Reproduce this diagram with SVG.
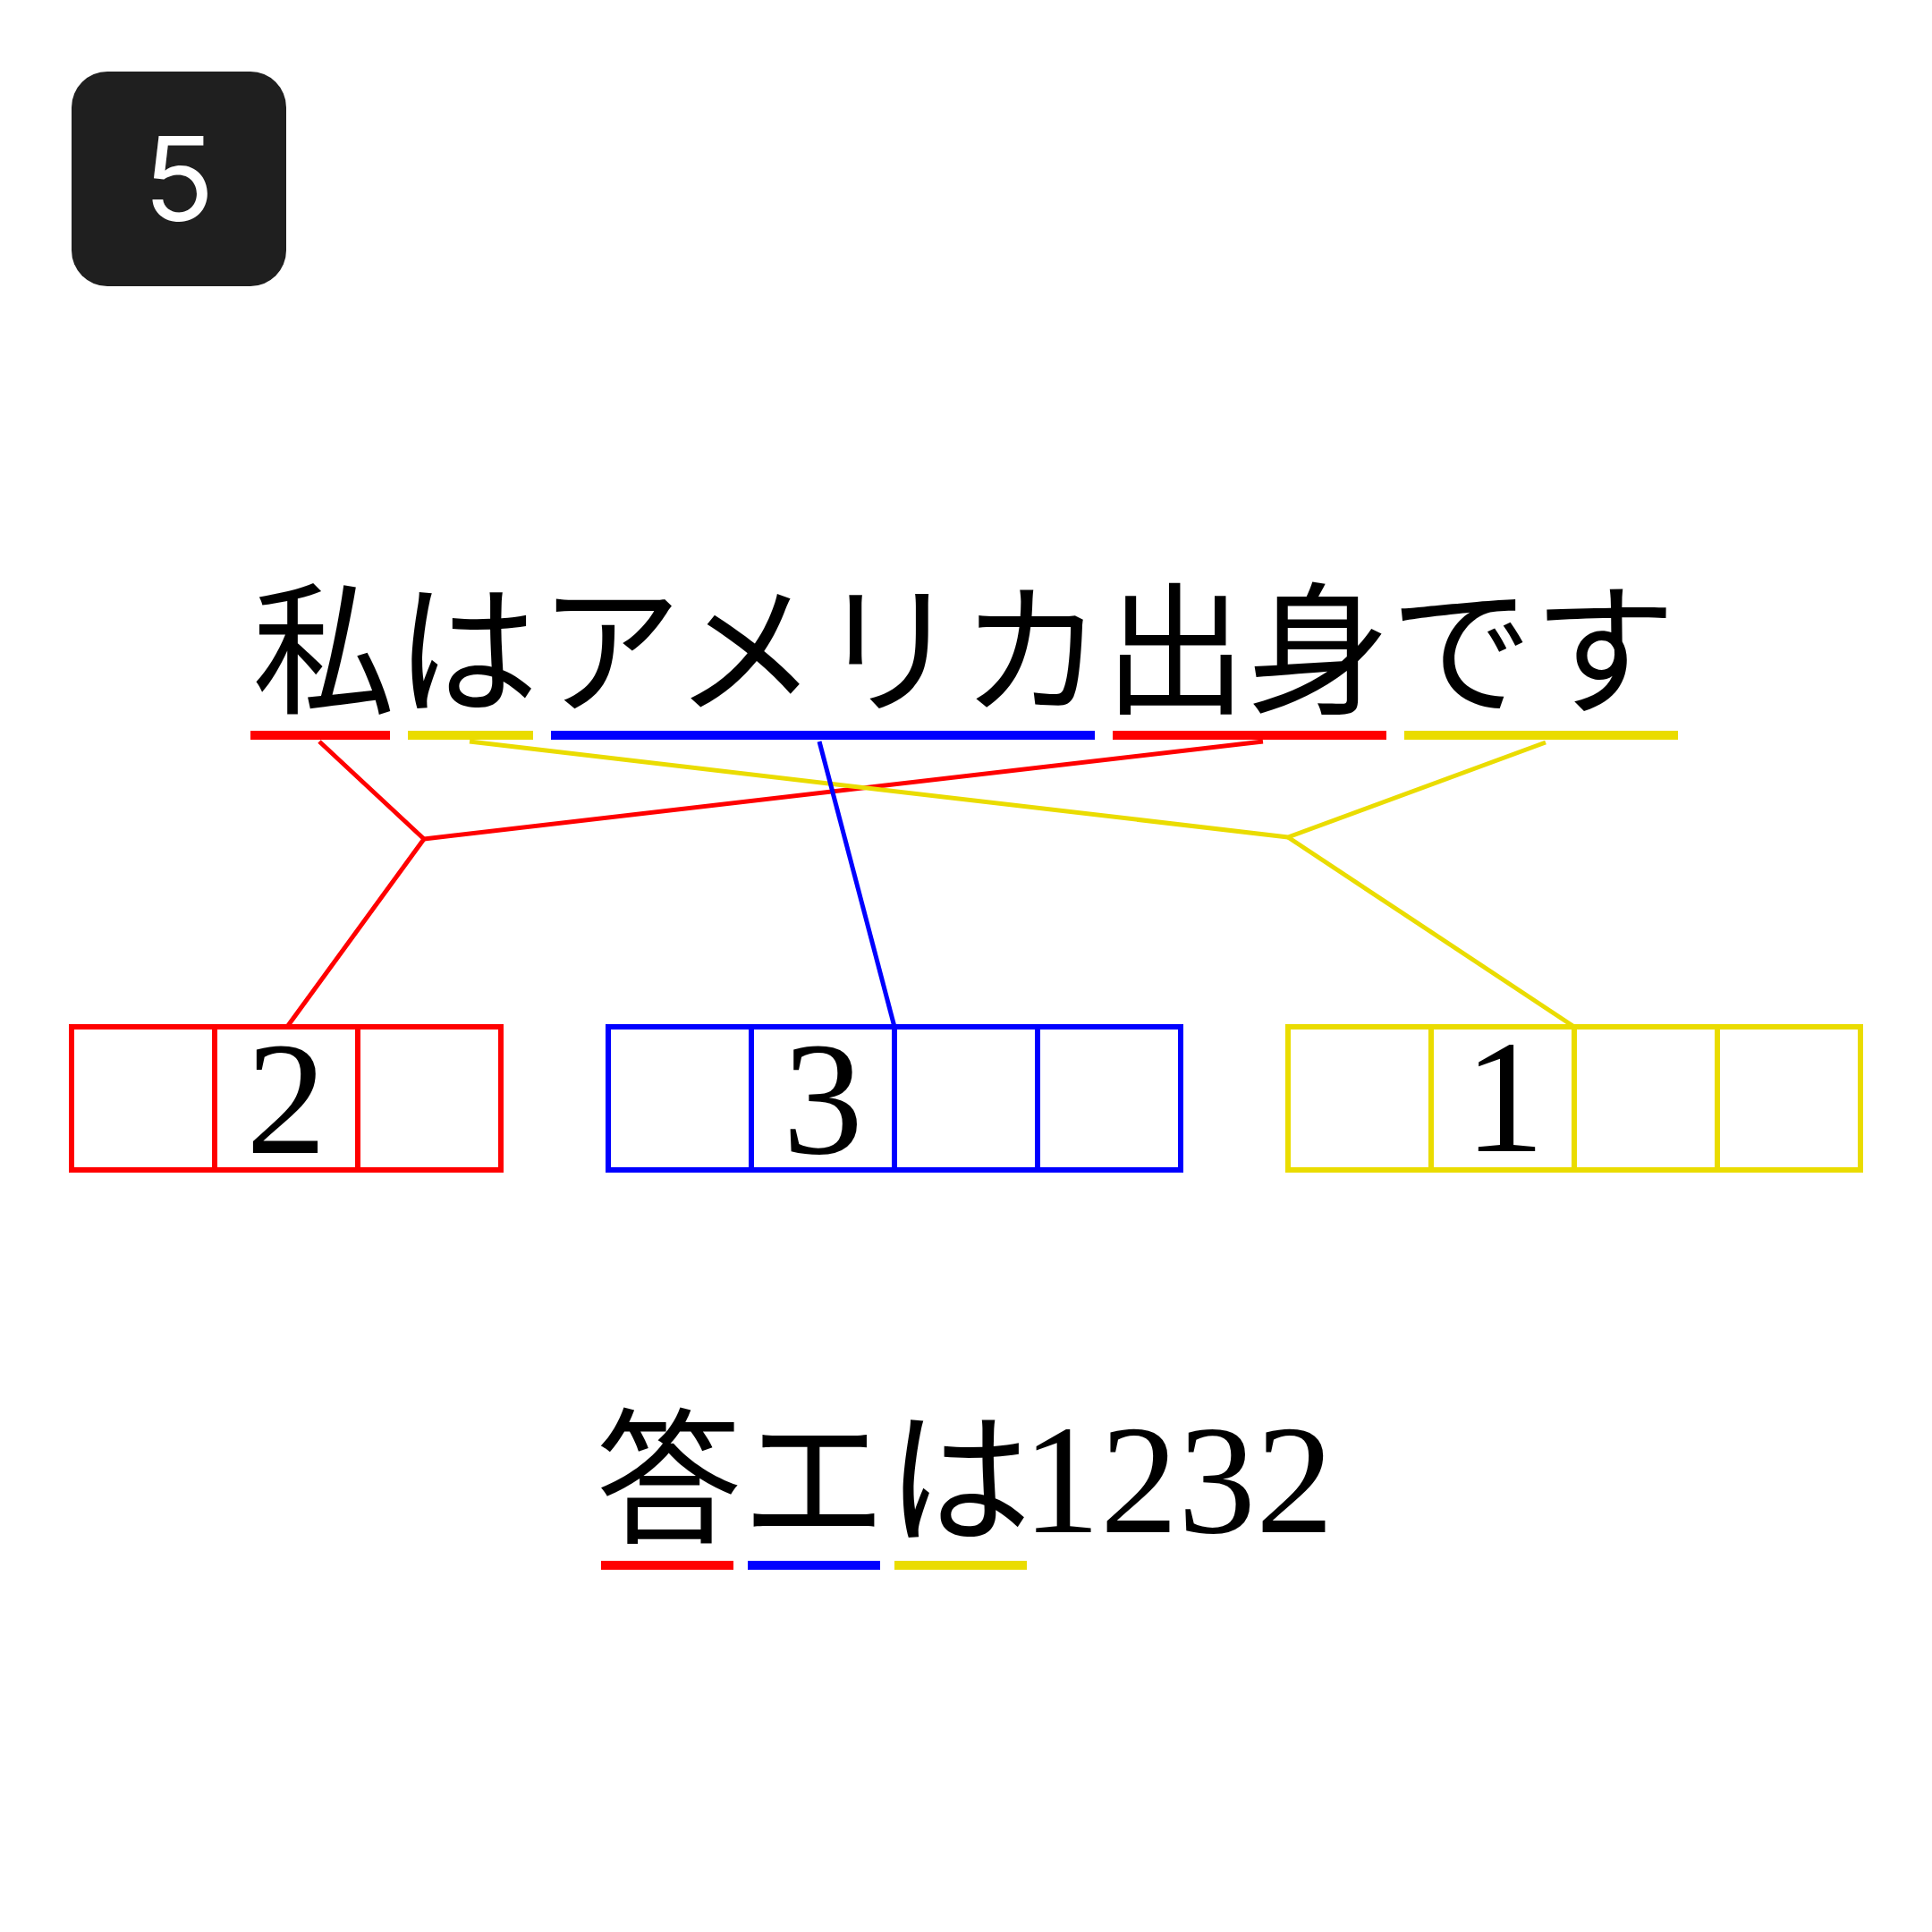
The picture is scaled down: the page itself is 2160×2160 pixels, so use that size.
<svg xmlns="http://www.w3.org/2000/svg" width="2160" height="2160" viewBox="0 0 2160 2160">
  <style>
    .jp { font-family: "Noto Sans CJK JP", sans-serif; fill: #000; }
    .num { font-family: "Liberation Serif", serif; fill: #000; }
    .cell { fill: none; stroke-width: 6; }
    .conn { fill: none; stroke-width: 5; stroke-linejoin: round; }
    .r { stroke: #FF0000; }
    .b { stroke: #0000FF; }
    .y { stroke: #EADC00; }
    .fr { fill: #FF0000; }
    .fb { fill: #0000FF; }
    .fy { fill: #EADC00; }
  </style>
  <rect width="2160" height="2160" fill="#FFFFFF"/>

  <g id="badge">
    <rect x="80" y="80" width="240" height="240" rx="40" ry="40" fill="#1F1F1F"/>
    <text x="200" y="247" text-anchor="middle" font-family="Inter, 'Noto Sans', sans-serif" font-size="130" fill="#FFFFFF">5</text>
  </g>

  <g id="sentence">
    <text class="jp" x="282" y="786" font-size="160">私はアメリカ出身です</text>
    <rect class="fr" x="280" y="817" width="156" height="10"/>
    <rect class="fy" x="456" y="817" width="140" height="10"/>
    <rect class="fb" x="616" y="817" width="608" height="10"/>
    <rect class="fr" x="1244" y="817" width="306" height="10"/>
    <rect class="fy" x="1570" y="817" width="306" height="10"/>
  </g>

  <g id="connectors">
    <polyline class="conn r" points="357,829 474,938 321,1148"/>
    <line class="conn r" x1="474" y1="938" x2="1412" y2="829"/>
    <polyline class="conn y" points="525,829 1440,936 1728,830"/>
    <line class="conn y" x1="1440" y1="936" x2="1760" y2="1148"/>
    <line class="conn b" x1="916" y1="829" x2="1000" y2="1148"/>
  </g>

  <g id="box-red">
    <rect class="cell r" x="80" y="1148" width="480" height="160"/>
    <line class="cell r" x1="240" y1="1148" x2="240" y2="1308"/>
    <line class="cell r" x1="400" y1="1148" x2="400" y2="1308"/>
    <text class="num" x="320" y="1289" font-size="180" text-anchor="middle">2</text>
  </g>

  <g id="box-blue">
    <rect class="cell b" x="680" y="1148" width="640" height="160"/>
    <line class="cell b" x1="840" y1="1148" x2="840" y2="1308"/>
    <line class="cell b" x1="1000" y1="1148" x2="1000" y2="1308"/>
    <line class="cell b" x1="1160" y1="1148" x2="1160" y2="1308"/>
    <text class="num" x="920" y="1289" font-size="180" text-anchor="middle">3</text>
  </g>

  <g id="box-yellow">
    <rect class="cell y" x="1440" y="1148" width="640" height="160"/>
    <line class="cell y" x1="1600" y1="1148" x2="1600" y2="1308"/>
    <line class="cell y" x1="1760" y1="1148" x2="1760" y2="1308"/>
    <line class="cell y" x1="1920" y1="1148" x2="1920" y2="1308"/>
    <text class="num" x="1682" y="1287" font-size="180" text-anchor="middle">1</text>
  </g>

  <g id="answer">
    <text class="jp" x="667" y="1713" font-size="162">答エは<tspan class="num" x="1143" font-size="174">1232</tspan></text>
    <rect class="fr" x="672" y="1745" width="148" height="10"/>
    <rect class="fb" x="836" y="1745" width="148" height="10"/>
    <rect class="fy" x="1000" y="1745" width="148" height="10"/>
  </g>
</svg>
